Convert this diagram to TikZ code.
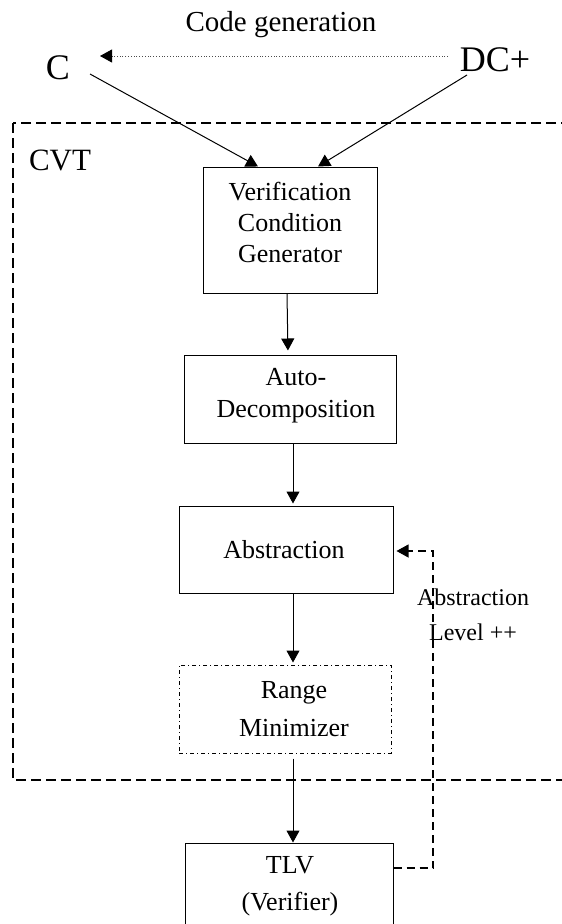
\documentclass[tikz,border=0pt]{standalone}
\usepackage{fontspec}
\setmainfont{Liberation Serif}
\usetikzlibrary{arrows.meta,calc}
\begin{document}
\begin{tikzpicture}[x=1pt,y=-1pt,
  box/.style={draw,line width=1pt,inner sep=0pt},
  txt/.style={inner sep=0pt,align=center,font=\fontsize{26}{31}\selectfont},
  arr/.style={line width=1pt,-{Triangle[length=12pt,width=13pt]}},
  fb/.style={line width=1.1pt,dash pattern=on 8pt off 5pt,-{Triangle[length=12pt,width=13pt]}},
  cvt/.style={line width=2pt,dash pattern=on 10pt off 5pt},
  dashdot/.style={line width=1pt,dash pattern=on 4pt off 3pt on 1pt off 3pt}
  ]
\useasboundingbox (0,0) rectangle (562,924);
\clip (0,0) rectangle (562,924);
% CVT frame
\draw[cvt] (13,123) rectangle (640,780);
\node[font=\fontsize{31}{36}\selectfont,inner sep=0pt] (cvtl) at (60,160) {CVT};
% top labels
\node[font=\fontsize{36}{40}\selectfont,inner sep=0pt] (c) at (58,68) {C};
\node[font=\fontsize{36}{40}\selectfont,inner sep=0pt] (dc) at (495,60) {DC+};
\node[font=\fontsize{29}{34}\selectfont,inner sep=0pt] (cg) at (281,25) {Code generation};
\coordinate (cgs) at (448,56);
\coordinate (cge) at (100,56);
\draw[line width=0.8pt,dotted,gray!60!black,-{Triangle[length=12pt,width=13pt,color=black,fill=black]}] (cgs) -- (cge);
% boxes
\node[box,minimum width=174pt,minimum height=126pt] (vcg) at (290,230) {};
\node[txt] (vcgt) at (290,222) {Verification\\Condition\\Generator};
\node[box,minimum width=212pt,minimum height=88pt] (ad) at (290,399) {};
\node[txt,font=\fontsize{26}{32}\selectfont] (adt) at (296,396) {Auto-\\Decomposition};
\node[box,minimum width=214pt,minimum height=87pt] (abs) at (286,549.5) {};
\node[txt] (abst) at (284,550) {Abstraction};
\node[box,dashdot,minimum width=212pt,minimum height=88pt] (rm) at (285,709) {};
\node[txt,font=\fontsize{26}{38}\selectfont] (rmt) at (294,709) {Range\\Minimizer};
\node[box,minimum width=208pt,minimum height=86pt] (tlv) at (289,886) {};
\node[txt,font=\fontsize{26}{37}\selectfont] (tlvt) at (290,886) {TLV\\(Verifier)};
% arrows
\coordinate (cs) at (90,74);
\coordinate (ds) at (467,75);
\draw[arr] (cs) -- ([xshift=-32pt]vcg.north);
\draw[arr] (ds) -- ([xshift=28pt]vcg.north);
\draw[arr,shorten >=4pt] ([xshift=-3pt]vcg.south) -- ([xshift=-2pt]ad.north);
\draw[arr,shorten >=2pt] ([xshift=3pt]ad.south) -- ([xshift=7pt]abs.north);
\draw[arr,shorten >=2pt] ([xshift=7pt]abs.south) -- ([xshift=8pt]rm.north);
\draw[arr,shorten <=5pt] ([xshift=8pt]rm.south) -- ([xshift=4pt]tlv.north);
% feedback
\coordinate (fb1) at (433,868);
\coordinate (fb2) at (433,551);
\draw[fb,shorten >=3pt] (tlv.east |- fb1) -- (fb1) -- (fb2) -- (abs.east |- fb2);
\node[txt,font=\fontsize{24}{35}\selectfont] (lvl) at (473,615) {Abstraction\\Level ++};
\end{tikzpicture}
\end{document}
